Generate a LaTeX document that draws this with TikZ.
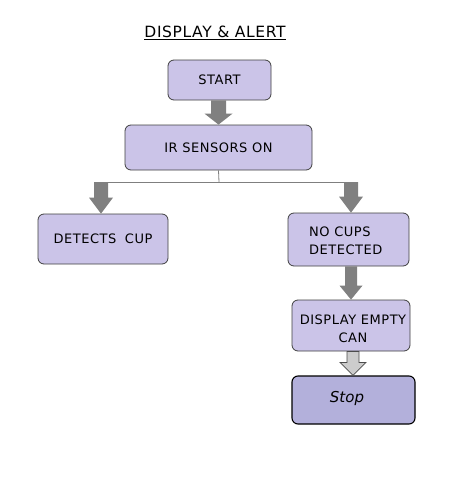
\documentclass[tikz,border=0pt]{standalone}
\usepackage{fontspec}
\setmainfont{DejaVu Sans}
\usetikzlibrary{calc}
\definecolor{boxfill}{HTML}{CBC4E8}
\definecolor{stopfill}{HTML}{B3B0DB}
\definecolor{arrgray}{HTML}{808080}
\definecolor{linegray}{HTML}{7F7F7F}
\newfontfamily\boxfont[LetterSpace=4]{DejaVu Sans}
\tikzset{
  flowbox/.style={draw=black!75, line width=0.8pt, fill=boxfill, rounded corners=6pt, inner sep=0pt, font=\boxfont\fontsize{13}{18}\selectfont, align=center},
  stopbox/.style={draw=black, line width=1.1pt, fill=stopfill, rounded corners=6pt, inner sep=0pt},
  blockarr/.style={fill=arrgray},
  hollowarr/.style={fill=black!20, draw=black!70, line width=0.7pt},
  branch/.style={draw=linegray, line width=0.8pt}
}
% #1 style, #2 top point, #3 tip point, #4 half shaft, #5 half head, #6 head length
\newcommand\blockarrow[6]{%
  \path[#1] let \p1=(#2), \p2=(#3) in
    (\x2-#4,\y1) -- (\x2-#4,\y2+#6) -- (\x2-#5,\y2+#6) -- (\x2,\y2)
    -- (\x2+#5,\y2+#6) -- (\x2+#4,\y2+#6) -- (\x2+#4,\y1) -- cycle;}
\begin{document}
\begin{tikzpicture}[x=1pt,y=-1pt]
\useasboundingbox[fill=white] (0,0) rectangle (464,498);
\node[font=\boxfont\fontsize{15.5}{18}\selectfont] (title) at (215,33) {\underline{DISPLAY \& ALERT}};
\node[flowbox, minimum width=103pt, minimum height=40pt] (start) at (219.5,80) {START};
\node[flowbox, minimum width=187pt, minimum height=45pt] (ir) at (218.5,147.5) {IR SENSORS ON};
\node[flowbox, minimum width=130pt, minimum height=50pt] (det) at (103,239) {DETECTS\hspace{4pt} CUP};
\node[flowbox, minimum width=121pt, minimum height=53pt, align=left] (nocup) at (348.5,239.5) {};
\node[font=\boxfont\fontsize{13}{18}\selectfont, align=left, inner sep=0pt, anchor=west] (nocupt) at (309,240.5) {NO CUPS\\DETECTED};
\node[flowbox, minimum width=118pt, minimum height=51pt] (disp) at (351,325.5) {};
\node[font=\boxfont\fontsize{13}{18}\selectfont, align=center, inner sep=0pt] (dispt) at (353,329) {DISPLAY EMPTY\\CAN};
\node[stopbox, minimum width=123pt, minimum height=48pt] (stop) at (353.5,400) {};
\node[font=\itshape\fontsize{15}{16}\selectfont] (stopt) at (347,398) {Stop};
\coordinate (split) at (219,182);
\coordinate (lt) at (101,182);
\coordinate (rt) at (351,182);
\draw[branch] (ir.south) -- (split);
\draw[branch] (lt) -- (rt);
\blockarrow{blockarr}{start.south}{ir.north}{7.5pt}{14pt}{11pt}
\blockarrow{blockarr}{lt}{det.north-|lt}{7pt}{12pt}{16pt}
\blockarrow{blockarr}{rt}{nocup.north-|rt}{7pt}{12pt}{16pt}
\blockarrow{blockarr}{nocup.south-|rt}{disp.north-|rt}{6pt}{11.5pt}{14pt}
\coordinate (st) at (353,0);
\blockarrow{hollowarr}{disp.south-|st}{stop.north-|st}{6pt}{13pt}{13pt}
\end{tikzpicture}
\end{document}
